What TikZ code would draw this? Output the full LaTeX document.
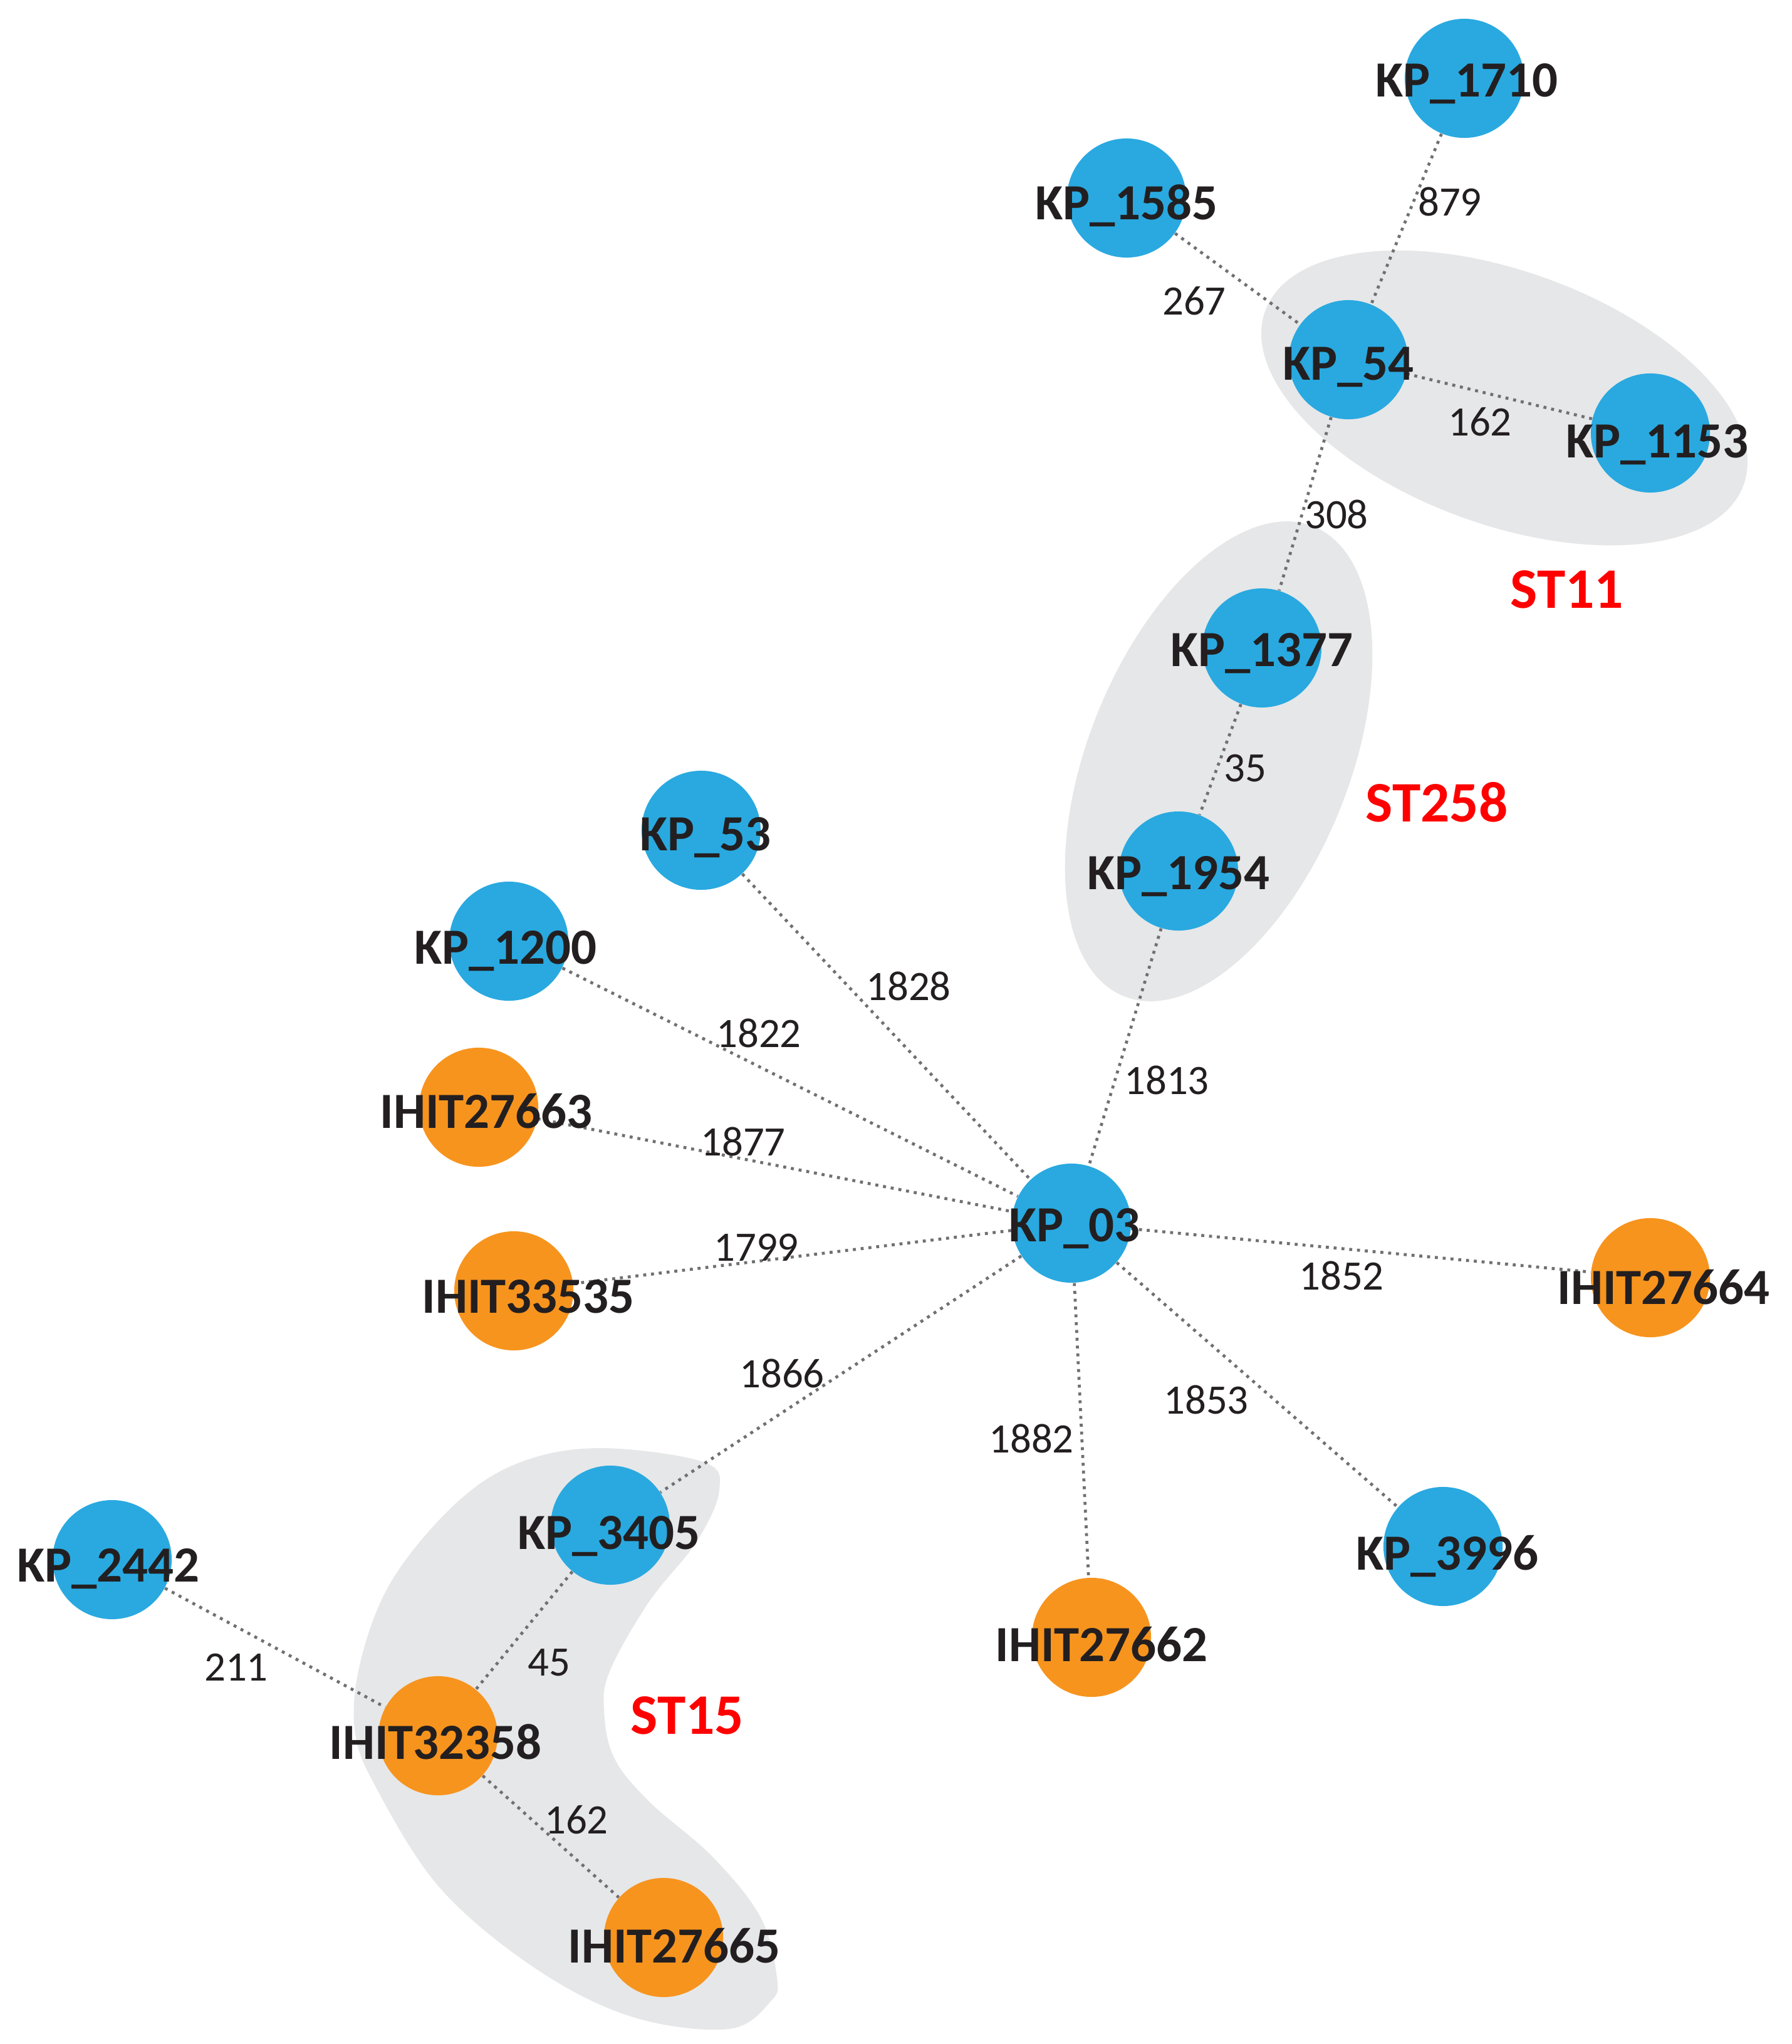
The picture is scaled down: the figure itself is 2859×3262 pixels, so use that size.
\documentclass[tikz,border=0pt]{standalone}
\usepackage{fontspec}
\setmainfont{Carlito}
\definecolor{nodeblue}{RGB}{41,169,224}
\definecolor{nodeorange}{RGB}{247,148,30}
\definecolor{blobgray}{RGB}{230,231,232}
\definecolor{edgegray}{RGB}{112,112,115}
\definecolor{txt}{RGB}{35,31,32}
\tikzset{
  ballb/.style={circle, fill=nodeblue, minimum size=1.9cm, inner sep=0pt},
  ballo/.style={circle, fill=nodeorange, minimum size=1.9cm, inner sep=0pt},
  nlabel/.style={inner sep=0pt, text height=0.51cm, text depth=0pt, text=txt, font=\fontsize{23pt}{27pt}\selectfont\bfseries},
  wlabel/.style={inner sep=0pt, text height=0.42cm, text depth=0pt, text=txt, font=\fontsize{19pt}{23pt}\selectfont},
  stlabel/.style={inner sep=0pt, text height=0.58cm, text depth=0pt, text=red, font=\fontsize{26pt}{30pt}\selectfont\bfseries},
  edge/.style={draw=edgegray, line width=1.35pt, dash pattern=on 1.35pt off 2.2pt},
  blob/.style={fill=blobgray}
}
\begin{document}
\begin{tikzpicture}[x=0.01cm, y=-0.01cm]
\useasboundingbox (0,0) rectangle (2859,3262);
% cluster blobs
\fill[blob, rotate around={-20:(2401,635)}] (2401,635) ellipse [x radius=4.06cm, y radius=2.02cm];
\fill[blob, rotate around={68:(1945,1215)}] (1945,1215) ellipse [x radius=4.04cm, y radius=2.08cm];
\fill[blob] plot[smooth cycle, tension=0.6] coordinates {
 (959,2311) (1122,2333) (1148,2378) (1112,2460) (1036,2556) (974,2665) (964,2728)
 (980,2805) (1036,2875) (1138,2964) (1214,3060) (1240,3156) (1230,3194) (1163,3238)
 (1010,3219) (857,3143) (704,3015) (602,2856) (566,2760) (577,2645) (628,2518)
 (730,2397) (832,2333)};
% nodes
\node[ballb] (k1710) at (2337,125) {};
\node[ballb] (k1585) at (1798,316) {};
\node[ballb] (k54) at (2152,574) {};
\node[ballb] (k1153) at (2634,691) {};
\node[ballb] (k1377) at (2014,1034) {};
\node[ballb] (k1954) at (1881,1390) {};
\node[ballb] (k53) at (1119,1325) {};
\node[ballb] (k1200) at (812,1502) {};
\node[ballo] (i27663) at (764,1767) {};
\node[ballo] (i33535) at (820,2060) {};
\node[ballb] (k03) at (1710,1952) {};
\node[ballo] (i27664) at (2634,2039) {};
\node[ballb] (k3996) at (2303,2468) {};
\node[ballo] (i27662) at (1742,2613) {};
\node[ballb] (k3405) at (974,2434) {};
\node[ballb] (k2442) at (179,2489) {};
\node[ballo] (i32358) at (699,2770) {};
\node[ballo] (i27665) at (1059,3092) {};
% edges
\draw[edge] (k1710) -- (k54);
\draw[edge] (k1585) -- (k54);
\draw[edge] (k54) -- (k1153);
\draw[edge] (k54) -- (k1377);
\draw[edge] (k1377) -- (k1954);
\draw[edge] (k1954) -- (k03);
\draw[edge] (k53) -- (k03);
\draw[edge] (k1200) -- (k03);
\draw[edge] (i27663) -- (k03);
\draw[edge] (i33535) -- (k03);
\draw[edge] (k03) -- (i27664);
\draw[edge] (k03) -- (k3996);
\draw[edge] (k03) -- (i27662);
\draw[edge] (k03) -- (k3405);
\draw[edge] (k3405) -- (i32358);
\draw[edge] (k2442) -- (i32358);
\draw[edge] (i32358) -- (i27665);
% node labels
\node[nlabel] (t1710) at (2341,129) {KP\_1710};
\node[nlabel] (t1585) at (1798,325) {KP\_1585};
\node[nlabel] (t54) at (2152,581) {KP\_54};
\node[nlabel] (t1153) at (2645,705) {KP\_1153};
\node[nlabel] (t1377) at (2014,1038) {KP\_1377};
\node[nlabel] (t1954) at (1881,1394) {KP\_1954};
\node[nlabel] (t53) at (1126,1332) {KP\_53};
\node[nlabel] (t1200) at (807,1513) {KP\_1200};
\node[nlabel] (ti27663) at (776,1775) {IHIT27663};
\node[nlabel] (ti33535) at (843,2070) {IHIT33535};
\node[nlabel] (t03) at (1715,1956) {KP\_03};
\node[nlabel] (ti27664) at (2655,2056) {IHIT27664};
\node[nlabel] (t3996) at (2310,2480) {KP\_3996};
\node[nlabel] (ti27662) at (1758,2626) {IHIT27662};
\node[nlabel] (t3405) at (972,2447) {KP\_3405};
\node[nlabel] (t2442) at (173,2499) {KP\_2442};
\node[nlabel] (ti32358) at (695,2782) {IHIT32358};
\node[nlabel] (ti27665) at (1076,3107) {IHIT27665};
% edge weights
\node[wlabel] (w879) at (2314,323) {879};
\node[wlabel] (w267) at (1906,481) {267};
\node[wlabel] (w162a) at (2362,674) {162};
\node[wlabel] (w308) at (2133,822) {308};
\node[wlabel] (w35) at (1987,1226) {35};
\node[wlabel] (w1828) at (1450,1575) {1828};
\node[wlabel] (w1822) at (1211,1650) {1822};
\node[wlabel] (w1813) at (1862,1725) {1813};
\node[wlabel] (w1877) at (1186,1823) {1877};
\node[wlabel] (w1799) at (1207,1991) {1799};
\node[wlabel] (w1852) at (2141,2037) {1852};
\node[wlabel] (w1853) at (1925,2235) {1853};
\node[wlabel] (w1866) at (1248,2193) {1866};
\node[wlabel] (w1882) at (1646,2297) {1882};
\node[wlabel] (w211) at (377,2661) {211};
\node[wlabel] (w45) at (876,2653) {45};
\node[wlabel] (w162b) at (920,2905) {162};
% cluster labels
\node[stlabel] (st11) at (2501,941) {ST11};
\node[stlabel] (st258) at (2293,1282) {ST258};
\node[stlabel] (st15) at (1097,2738) {ST15};
\end{tikzpicture}
\end{document}
